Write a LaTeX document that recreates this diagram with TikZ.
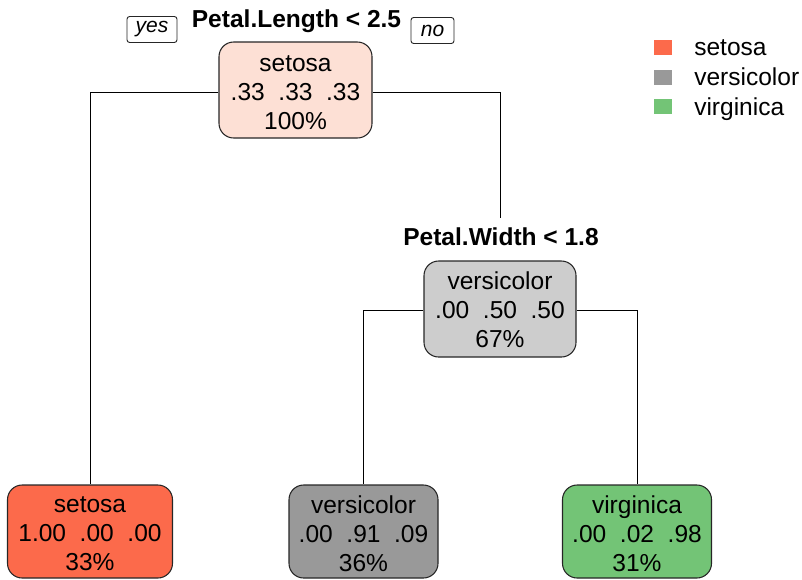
\documentclass[tikz,border=0pt]{standalone}
\usepackage{fontspec}
\setmainfont{Liberation Sans}
\definecolor{rootfill}{HTML}{FDE0D5}
\definecolor{midfill}{HTML}{CDCDCD}
\definecolor{setosacol}{HTML}{FC6A4B}
\definecolor{versicol}{HTML}{999999}
\definecolor{virgcol}{HTML}{73C476}
\begin{document}
\begin{tikzpicture}[x=0.75pt,y=-0.75pt,
  treebox/.style={draw=black!85, line width=0.8pt, rounded corners=11pt,
    inner sep=0pt},
  boxtext/.style={inner sep=0pt, align=center,
    font=\fontsize{18.4}{21.75}\selectfont},
  edge/.style={draw=black, line width=0.75pt},
  splitlabel/.style={anchor=base, inner sep=0pt,
    font=\fontsize{18.4}{22}\selectfont\bfseries},
  tag/.style={draw=black!85, line width=0.7pt, rounded corners=2pt,
    inner sep=0pt, minimum height=19.5pt,
    font=\fontsize{15.75}{18}\selectfont\itshape},
  key/.style={minimum width=13.5pt, minimum height=11.25pt, inner sep=0pt},
  keytext/.style={anchor=base west, inner sep=0pt,
    font=\fontsize{18.4}{22}\selectfont}
]
\useasboundingbox (0,0) rectangle (802,579);

% split labels and yes/no tags
\node[splitlabel] (s1) at (296.5,27) {Petal.Length < 2.5};
\node[tag, minimum width=37.5pt] (yes) at (152,29.5) {yes};
\node[tag, minimum width=32.25pt] (no) at (432.5,30.5) {no};
\node[splitlabel] (s2) at (501,245) {Petal.Width < 1.8};
\coordinate (s2top) at (500,218);

% tree nodes: boxes
\node[treebox, fill=rootfill, minimum width=114.75pt, minimum height=72pt]
  (root) at (295.5,90) {};
\node[treebox, fill=midfill, minimum width=114pt, minimum height=72pt]
  (mid) at (500,309) {};
\node[treebox, fill=setosacol, minimum width=123.75pt, minimum height=69.75pt]
  (leafA) at (90,531.5) {};
\node[treebox, fill=versicol, minimum width=111.75pt, minimum height=69.75pt]
  (leafB) at (363.5,531.5) {};
\node[treebox, fill=virgcol, minimum width=111.75pt, minimum height=69.75pt]
  (leafC) at (637,531.5) {};

% tree nodes: class, probabilities, share of observations
\node[boxtext] (rootT) at ([yshift=-2.25pt]root.center) {setosa\\.33\ \ .33\ \ .33\\100\%};
\node[boxtext] (midT) at ([yshift=-0.75pt]mid.center) {versicolor\\.00\ \ .50\ \ .50\\67\%};
\node[boxtext] (leafAT) at ([yshift=-1.5pt]leafA.center) {setosa\\1.00\ \ .00\ \ .00\\33\%};
\node[boxtext] (leafBT) at ([yshift=-1.5pt]leafB.center) {versicolor\\.00\ \ .91\ \ .09\\36\%};
\node[boxtext] (leafCT) at ([yshift=-1.5pt]leafC.center) {virginica\\.00\ \ .02\ \ .98\\31\%};

% branches
\draw[edge] ([yshift=-1.5pt]root.west) -| (leafA.north);
\draw[edge] ([yshift=-1.5pt]root.east) -| (s2top);
\draw[edge] ([yshift=-0.75pt]mid.west) -| (leafB.north);
\draw[edge] ([yshift=-0.75pt]mid.east) -| (leafC.north);

% legend
\node[key, fill=setosacol] (k1) at (663,47.5) {};
\node[key, fill=versicol] (k2) at (663,77.5) {};
\node[key, fill=virgcol] (k3) at (663,106.5) {};
\node[keytext] (t1) at (694,55) {setosa};
\node[keytext] (t2) at (694,85) {versicolor};
\node[keytext] (t3) at (694,115) {virginica};
\end{tikzpicture}
\end{document}
